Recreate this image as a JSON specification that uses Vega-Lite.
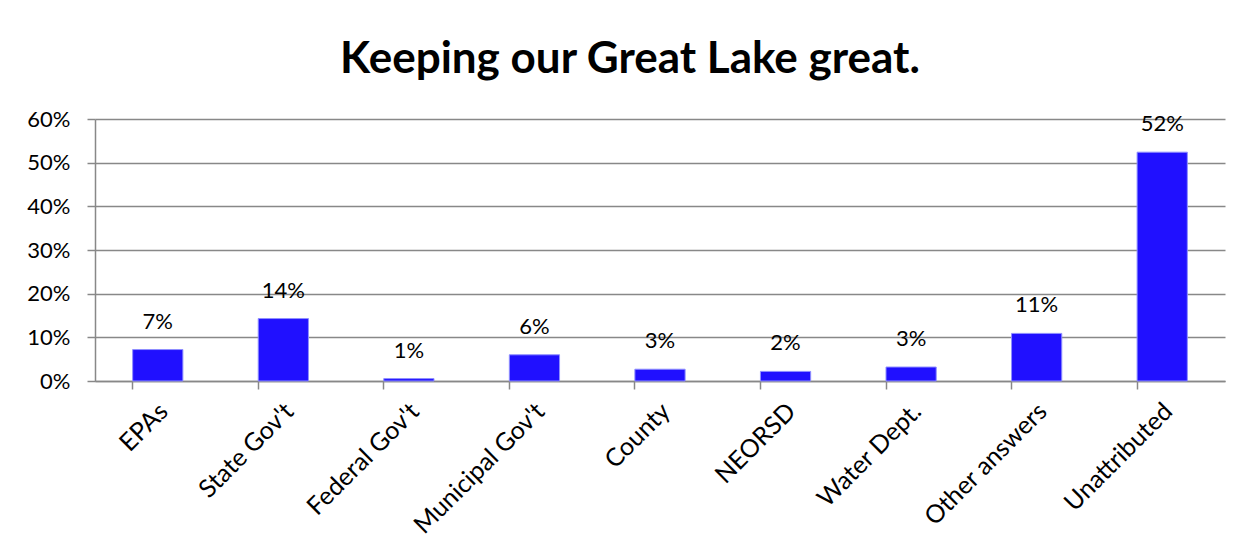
{
  "$schema": "https://vega.github.io/schema/vega-lite/v6.json",
  "autosize": {"type": "none"},
  "width": 1130,
  "height": 262,
  "padding": {"left": 95, "top": 119, "right": 25, "bottom": 173},
  "background": "white",
  "title": {
    "text": "Keeping our Great Lake great.",
    "font": "Lato",
    "fontSize": 44,
    "fontWeight": "bold",
    "color": "black",
    "anchor": "middle",
    "dx": -30,
    "offset": 26
  },
  "data": {
    "values": [
      {"category": "EPAs", "share": 0.072},
      {"category": "State Gov't", "share": 0.143},
      {"category": "Federal Gov't", "share": 0.0055},
      {"category": "Municipal Gov't", "share": 0.06},
      {"category": "County", "share": 0.027},
      {"category": "NEORSD", "share": 0.022},
      {"category": "Water Dept.", "share": 0.032},
      {"category": "Other answers", "share": 0.109},
      {"category": "Unattributed", "share": 0.524}
    ]
  },
  "encoding": {
    "x": {
      "field": "category",
      "type": "nominal",
      "sort": null,
      "scale": {"paddingInner": 0.6, "paddingOuter": 0.3},
      "axis": {
        "title": null,
        "labelAngle": -45,
        "labelAlign": "right",
        "labelBaseline": "middle",
        "labelFont": "Lato",
        "labelFontSize": 25,
        "labelColor": "black",
        "labelPadding": 18,
        "labelOffset": 6,
        "bandPosition": 0,
        "tickSize": 8,
        "tickColor": "#888888",
        "tickWidth": 1.5,
        "domainColor": "#888888",
        "domainWidth": 1.5,
        "grid": false
      }
    },
    "y": {
      "field": "share",
      "type": "quantitative",
      "scale": {"domain": [0, 0.6], "nice": false},
      "axis": {
        "title": null,
        "format": ".0%",
        "values": [0, 0.1, 0.2, 0.3, 0.4, 0.5, 0.6],
        "labelFont": "Lato",
        "labelFontSize": 22,
        "labelColor": "black",
        "labelPadding": 17,
        "tickSize": 8,
        "tickColor": "#888888",
        "tickWidth": 1.5,
        "domainColor": "#888888",
        "domainWidth": 1.5,
        "grid": true,
        "gridColor": "#888888",
        "gridWidth": 1.5
      }
    }
  },
  "layer": [
    {
      "mark": {"type": "bar", "color": "#2010FF", "stroke": "#8f8fff", "strokeWidth": 1}
    },
    {
      "mark": {"type": "text", "baseline": "bottom", "dy": -16, "font": "Lato", "fontSize": 22, "color": "black"},
      "encoding": {
        "text": {"field": "share", "type": "quantitative", "format": ".0%"}
      }
    }
  ],
  "config": {"view": {"stroke": null}}
}
